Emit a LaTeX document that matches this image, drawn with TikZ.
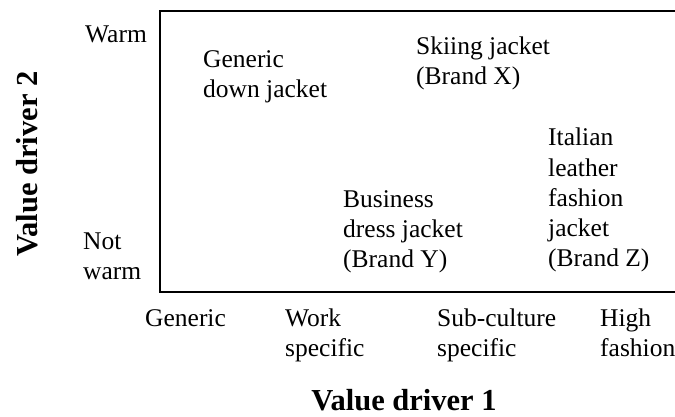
\documentclass[tikz,border=0pt]{standalone}
\usepackage{fontspec}
\setmainfont{Liberation Serif}
\begin{document}
\begin{tikzpicture}[x=1pt,y=1pt,
  lbl/.style={anchor=base west,inner sep=0pt,align=left,font=\fontsize{25.5}{30.3}\selectfont},
  ttl/.style={anchor=base,inner sep=0pt,font=\fontsize{30.5}{36}\selectfont\bfseries},
  frame/.style={line width=1.8pt,line join=miter}]
\useasboundingbox (0,0) rectangle (675,417);
% frame (open to the right)
\coordinate (tr) at (680,406);
\coordinate (tl) at (160,406);
\coordinate (bl) at (160,125);
\coordinate (br) at (680,125);
\draw[frame] (tr) -- (tl) -- (bl) -- (br);
% y-axis labels (base = last line)
\node[lbl] (warm) at (85,374) {Warm};
\node[lbl] (notwarm) at (83,137) {Not\\warm};
\node[ttl,rotate=90] (vd2) at (38,253) {Value driver 2};
% x-axis labels
\node[lbl] (generic) at (145,90) {Generic};
\node[lbl] (work) at (285,60) {Work\\specific};
\node[lbl] (sub) at (437,60) {Sub-culture\\specific};
\node[lbl] (high) at (600,60) {High\\fashion};
\node[ttl] (vd1) at (404,6) {Value driver 1};
% items
\node[lbl] (down) at (203,319) {Generic\\down jacket};
\node[lbl] (ski) at (416,332) {Skiing jacket\\(Brand X)};
\node[lbl] (biz) at (343,149) {Business\\dress jacket\\(Brand Y)};
\node[lbl] (ital) at (548,150) {Italian\\leather\\fashion\\jacket\\(Brand Z)};
\end{tikzpicture}
\end{document}
